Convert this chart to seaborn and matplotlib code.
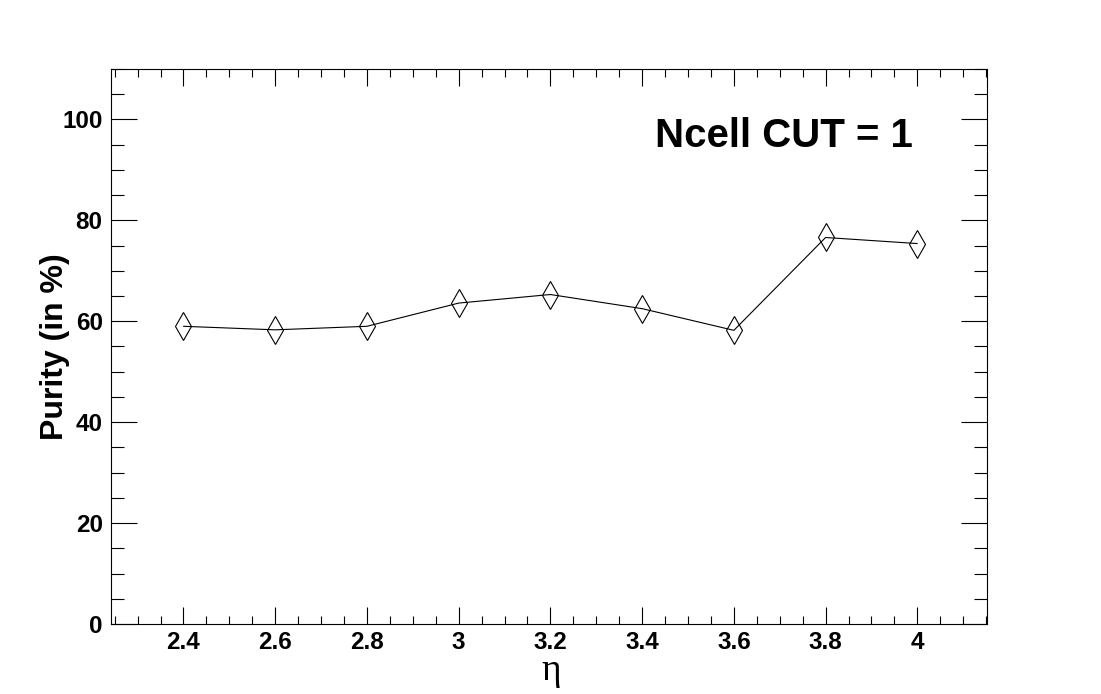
import matplotlib
matplotlib.use("Agg")
import matplotlib.pyplot as plt
import seaborn as sns
import pandas as pd
from matplotlib.ticker import MultipleLocator, FuncFormatter

# purity vs eta
eta = [2.4, 2.6, 2.8, 3.0, 3.2, 3.4, 3.6, 3.8, 4.0]
purity = [59.0, 58.3, 59.0, 63.6, 65.3, 62.5, 58.2, 76.6, 75.4]

df = pd.DataFrame({"eta": eta, "purity": purity})

sns.set_style("white")
plt.rcParams["font.family"] = ["Liberation Sans", "DejaVu Sans"]
plt.rcParams["text.color"] = "black"
plt.rcParams["axes.labelcolor"] = "black"

fig = plt.figure(figsize=(11.01, 6.94), dpi=100)
ax = fig.add_axes([0.1008, 0.1009, 0.7957, 0.7997])

sns.lineplot(
    data=df,
    x="eta",
    y="purity",
    ax=ax,
    color="black",
    linewidth=0.8,
    marker="d",
    markersize=14.3,
    markerfacecolor="none",
    markeredgecolor="black",
    markeredgewidth=0.8,
)

ax.set_xlim(2.242, 4.152)
ax.set_ylim(0, 110)

ax.xaxis.set_major_locator(MultipleLocator(0.2))
ax.xaxis.set_minor_locator(MultipleLocator(0.05))
ax.yaxis.set_major_locator(MultipleLocator(20))
ax.yaxis.set_minor_locator(MultipleLocator(5))
ax.xaxis.set_major_formatter(FuncFormatter(lambda v, p: f"{v:g}"))

ax.tick_params(axis="both", which="both", direction="in",
               top=True, right=True, bottom=True, left=True,
               width=0.8, colors="black")
ax.tick_params(axis="x", which="major", length=12.5, pad=5)
ax.tick_params(axis="x", which="minor", length=5.8)
ax.tick_params(axis="y", which="major", length=18.5, pad=6)
ax.tick_params(axis="y", which="minor", length=9.6)

for lab in ax.get_xticklabels() + ax.get_yticklabels():
    lab.set_fontsize(17.5)
    lab.set_fontweight("bold")
    lab.set_color("black")

for sp in ax.spines.values():
    sp.set_linewidth(0.8)
    sp.set_color("black")

ax.set_xlabel("")
ax.text(0.503, -0.101, "η", transform=ax.transAxes, fontsize=27,
        family=["Liberation Serif", "DejaVu Serif"],
        ha="center", va="baseline", color="black")
ax.set_ylabel("Purity (in %)", fontsize=23, fontweight="bold", color="black")
ax.yaxis.set_label_coords(-0.047, 0.5)

ax.text(0.621, 0.860, "Ncell CUT = 1", transform=ax.transAxes,
        fontsize=29, fontweight="bold", ha="left", va="baseline",
        color="black")

fig.savefig("out.png", dpi=100, facecolor="white")
